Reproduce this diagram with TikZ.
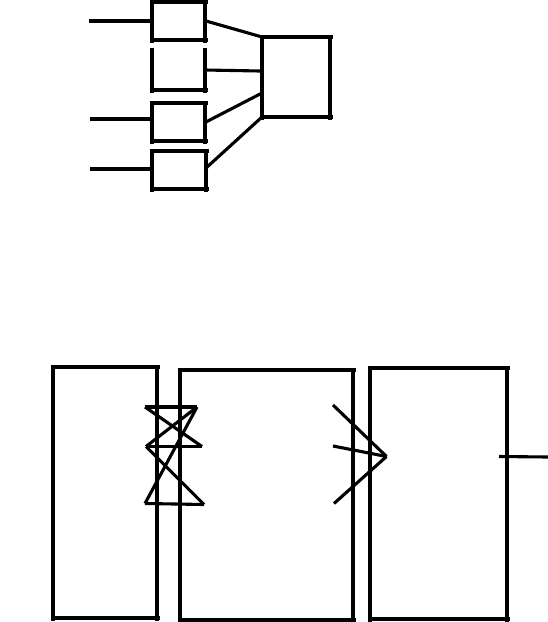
\documentclass[tikz,border=0pt]{standalone}
\begin{document}
\begin{tikzpicture}[x=1pt,y=-1pt,
  boxedge/.style={line width=3.6pt,shorten <=-2.5pt,shorten >=-2.5pt},
  wire/.style={line width=3.1pt},
  line cap=butt]
\useasboundingbox[fill=white] (0,0) rectangle (548,622);
% ---------- top group ----------
\coordinate (b1a) at (152,2);  \coordinate (b1b) at (205,2);
\coordinate (b1c) at (205,40); \coordinate (b1d) at (152,40);
\coordinate (b2a) at (152,50); \coordinate (b2b) at (205,50);
\coordinate (b2c) at (205,90); \coordinate (b2d) at (152,90);
\coordinate (b3a) at (152,103);\coordinate (b3b) at (205,103);
\coordinate (b3c) at (205,141);\coordinate (b3d) at (152,141);
\coordinate (b4a) at (152,151);\coordinate (b4b) at (206,151);
\coordinate (b4c) at (206,189);\coordinate (b4d) at (152,189);
\coordinate (ga) at (262,37);  \coordinate (gb) at (330,37);
\coordinate (gc) at (330,117); \coordinate (gd) at (262,117);
\foreach \p/\q in {b1a/b1b,b1b/b1c,b1c/b1d,b1d/b1a,
                   b2a/b2d,b2d/b2c,b2c/b2b,
                   b3a/b3b,b3b/b3c,b3c/b3d,b3d/b3a,
                   b4a/b4b,b4b/b4c,b4c/b4d,b4d/b4a,
                   ga/gb,gb/gc,gc/gd,gd/ga}
  \draw[boxedge] (\p) -- (\q);
% inputs
\coordinate (i1) at (89,21);  \coordinate (i1e) at (152,21);
\coordinate (i3) at (90,119); \coordinate (i3e) at (152,119);
\coordinate (i4) at (90,169); \coordinate (i4e) at (152,169);
\draw[wire] (i1) -- (i1e);
\draw[wire] (i3) -- (i3e);
\draw[wire] (i4) -- (i4e);
% connectors to big box
\coordinate (o1) at (206,21);  \coordinate (g1) at (262,37);
\coordinate (o2) at (205,70);  \coordinate (g2) at (260,71);
\coordinate (o3) at (204,123); \coordinate (g3) at (262,93);
\coordinate (o4) at (206,168); \coordinate (g4) at (262,117);
\draw[wire] (o1) -- (g1);
\draw[wire] (o2) -- (g2);
\draw[wire] (o3) -- (g3);
\draw[wire] (o4) -- (g4);
% ---------- bottom group ----------
\coordinate (Aa) at (53,367);  \coordinate (Ab) at (157,367);
\coordinate (Ac) at (157,618); \coordinate (Ad) at (53,618);
\coordinate (Ba) at (180,370); \coordinate (Bb) at (353,370);
\coordinate (Bc) at (353,620); \coordinate (Bd) at (180,620);
\coordinate (Ca) at (370,368); \coordinate (Cb) at (507,368);
\coordinate (Cc) at (507,619); \coordinate (Cd) at (370,619);
\foreach \p/\q in {Aa/Ab,Ab/Ac,Ac/Ad,Ad/Aa,
                   Ba/Bb,Bb/Bc,Bc/Bd,Bd/Ba,
                   Ca/Cb,Cb/Cc,Cc/Cd,Cd/Ca}
  \draw[boxedge] (\p) -- (\q);
% crossing lines between A and B
\coordinate (x1) at (145,407);   \coordinate (x2) at (197,407);
\coordinate (x3) at (146,446.5); \coordinate (x4) at (202,446.5);
\coordinate (x5) at (145,503.5); \coordinate (x6) at (204,504.5);
\draw[wire] (x1) -- (x2);
\draw[wire] (x1) -- (x4);
\draw[wire] (x2) -- (x3);
\draw[wire] (x3) -- (x4);
\draw[wire] (x3) -- (x6);
\draw[wire] (x5) -- (x2);
\draw[wire] (x5) -- (x6);
% lines converging between B and C
\coordinate (y1) at (333,405);
\coordinate (y2) at (333,446);
\coordinate (y3) at (334,503.5);
\coordinate (yp) at (386.5,456.5);
\draw[wire] (y1) -- (yp);
\draw[wire] (y2) -- (yp);
\draw[wire] (y3) -- (yp);
% output line
\coordinate (z1) at (499,456.5); \coordinate (z2) at (548,457);
\draw[wire] (z1) -- (z2);
\end{tikzpicture}
\end{document}
